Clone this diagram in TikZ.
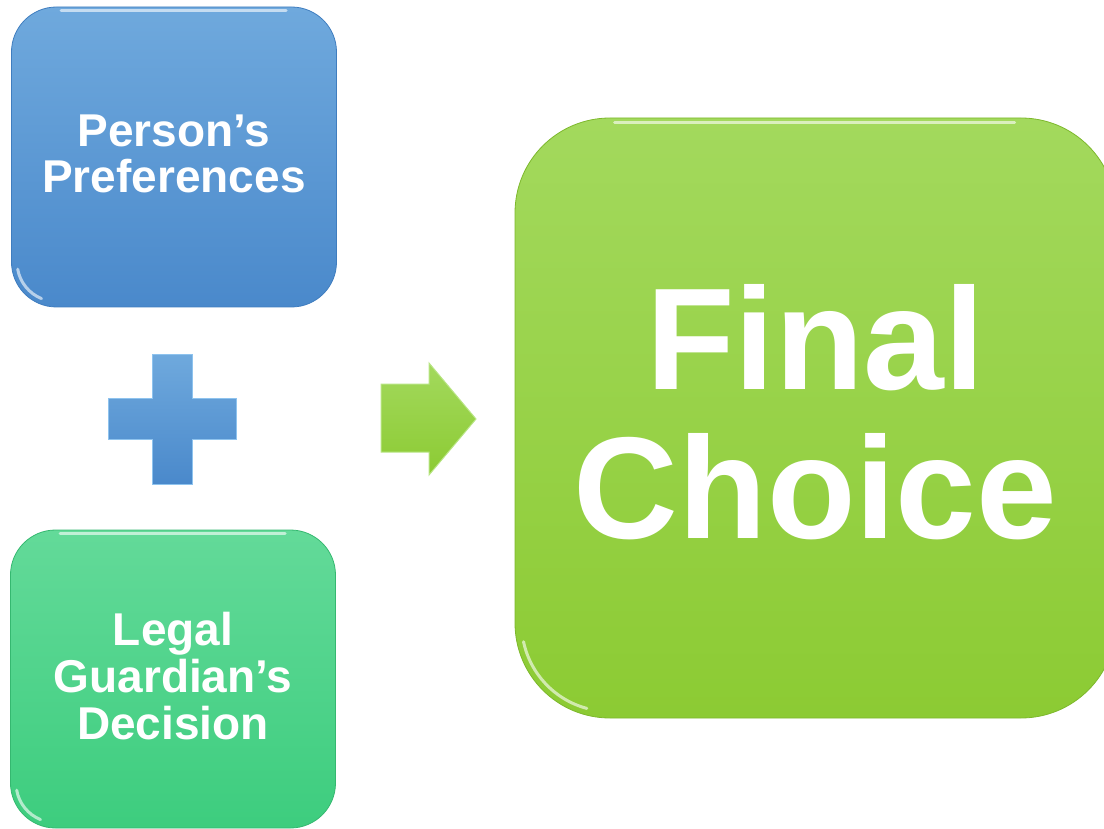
\documentclass[tikz,border=0pt]{standalone}
\usepackage{fontspec}
\setmainfont{Liberation Sans}
\definecolor{blueTop}{HTML}{6FA9DD}
\definecolor{blueBot}{HTML}{4A89CB}
\definecolor{blueEdge}{HTML}{3F7DBF}
\definecolor{mintTop}{HTML}{63DA99}
\definecolor{mintBot}{HTML}{3DCD7E}
\definecolor{mintEdge}{HTML}{35B870}
\definecolor{limeTop}{HTML}{A3D95D}
\definecolor{limeBot}{HTML}{8CCB33}
\definecolor{limeEdge}{HTML}{7DB82C}
\definecolor{plusEdge}{HTML}{8EC3EE}
\definecolor{arrowEdge}{HTML}{B9E585}
\tikzset{
  box/.style={rounded corners=#1, align=center, text=white, inner sep=0pt, line width=0.8pt},
  smalltext/.style={font=\bfseries\fontsize{46}{46}\selectfont},
  bigtext/.style={font=\bfseries\fontsize{145}{149}\selectfont},
  gloss/.style={white, line width=3pt, opacity=0.6, line cap=round},
}
\begin{document}
\begin{tikzpicture}[x=1pt,y=-1pt]
\useasboundingbox (0,0) rectangle (1104,829);
\clip (0,0) rectangle (1104,829);

% Person's Preferences
\node[box=45pt, smalltext, draw=blueEdge, top color=blueTop, bottom color=blueBot,
      minimum width=325pt, minimum height=300pt] (pref) at (174,157)
      {Person’s\\Preferences\rule[-7pt]{0pt}{7pt}};
% Legal Guardian's Decision
\node[box=45pt, smalltext, draw=mintEdge, top color=mintTop, bottom color=mintBot,
      minimum width=325pt, minimum height=298pt] (legal) at (173,679)
      {Legal\\[1pt]Guardian’s\\[1pt]Decision\rule[-6pt]{0pt}{6pt}};
% Final Choice
\node[box=95pt, bigtext, draw=limeEdge, top color=limeTop, bottom color=limeBot,
      minimum width=601pt, minimum height=600pt] (final) at (815.5,418)
      {Final\\Choice\rule[-14pt]{0pt}{14pt}};

% gloss highlights
\draw[gloss] (pref.north west) ++(50,4) -- ++(225,0);
\draw[gloss] ([shift={(45,-45)}]pref.south west) ++(170:39) arc[start angle=170, end angle=112, radius=39];
\draw[gloss] (legal.north west) ++(50,4) -- ++(225,0);
\draw[gloss] ([shift={(45,-45)}]legal.south west) ++(170:39) arc[start angle=170, end angle=112, radius=39];
\draw[gloss] (final.north west) ++(100,5) -- ++(400,0);
\draw[gloss] ([shift={(95,-95)}]final.south west) ++(168:88) arc[start angle=168, end angle=105, radius=88];

% plus sign
\path[top color=blueTop, bottom color=blueBot, draw=plusEdge, line width=1pt]
  (152,354) -- (192,354) -- (192,398) -- (236,398) -- (236,439) -- (192,439)
  -- (192,484) -- (152,484) -- (152,439) -- (108,439) -- (108,398) -- (152,398) -- cycle;

% arrow
\path[top color=limeTop, bottom color=limeBot, draw=arrowEdge, line width=1pt]
  (381,384) -- (429,384) -- (429,363) -- (476,419) -- (429,475) -- (429,452)
  -- (381,452) -- cycle;
\end{tikzpicture}
\end{document}
